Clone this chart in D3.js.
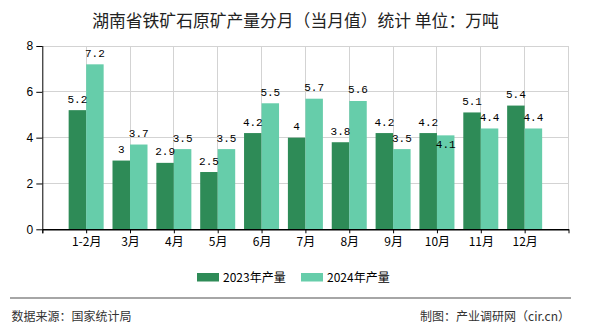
<!DOCTYPE html>
<html>
<head>
<meta charset="utf-8">
<script src="https://cdn.jsdelivr.net/npm/d3@7"></script>
<style>
  html, body { margin: 0; padding: 0; background: #fff; }
  svg { display: block; }
  text { font-family: "Noto Sans CJK SC", "Liberation Sans", sans-serif; }
</style>
</head>
<body>
<svg id="chart" width="590" height="330"></svg>
<script>
const categories = ["1-2月", "3月", "4月", "5月", "6月", "7月", "8月", "9月", "10月", "11月", "12月"];
const series2023 = [5.2, 3, 2.9, 2.5, 4.2, 4, 3.8, 4.2, 4.2, 5.1, 5.4];
const series2024 = [7.2, 3.7, 3.5, 3.5, 5.5, 5.7, 5.6, 3.5, 4.1, 4.4, 4.4];
const seriesNames = ["2023年产量", "2024年产量"];
const yTicks = [0, 2, 4, 6, 8];
const titleText = "湖南省铁矿石原矿产量分月（当月值）统计 单位：万吨";
const sourceText = "数据来源：国家统计局";
const creditText = "制图：产业调研网（cir.cn）";

const colors = ["#2E8B57", "#66CDAA"];
const svg = d3.select("#chart");
const pLeft = 42.3, pRight = 568.5, pTop = 46, pBottom = 229.3;

const x = d3.scaleLinear().domain([0, categories.length + 1]).range([pLeft, pRight]);
const y = d3.scaleLinear().domain([0, 8]).range([pBottom, pTop]);
const barW = 17.5;

// title
svg.append("text").attr("x", 295.5).attr("y", 26.5).attr("text-anchor", "middle")
  .attr("font-size", 16.8).attr("fill", "#222").style("white-space", "pre").text(titleText);

// horizontal grid
svg.append("g").selectAll("line").data(yTicks.filter(d => d > 0)).join("line")
  .attr("x1", pLeft).attr("x2", pRight).attr("y1", d => y(d)).attr("y2", d => y(d))
  .attr("stroke", "#d3d3d3").attr("stroke-width", 1).attr("shape-rendering", "crispEdges");
// vertical grid
svg.append("g").selectAll("line").data(d3.range(1, categories.length + 2)).join("line")
  .attr("x1", d => x(d)).attr("x2", d => x(d)).attr("y1", pTop).attr("y2", pBottom)
  .attr("stroke", "#d3d3d3").attr("stroke-width", 1).attr("shape-rendering", "crispEdges");

// bars
const data = categories.map((c, i) => ({ c, i, v: [series2023[i], series2024[i]] }));
const groups = svg.append("g").selectAll("g").data(data).join("g");
groups.selectAll("rect").data(d => d.v.map((v, k) => ({ v, k, i: d.i }))).join("rect")
  .attr("x", d => x(d.i + 1) - barW + d.k * barW)
  .attr("width", barW)
  .attr("y", d => y(d.v))
  .attr("height", d => y(0) - y(d.v))
  .attr("fill", d => colors[d.k]);

// value labels
groups.each(function(d) {
  const g = d3.select(this);
  const yd = y(d.v[0]), yl = y(d.v[1]);
  d.v.forEach((v, k) => {
    let ty = y(v) - 7.5;
    if (k === 1 && Math.abs(yd - yl) < 12) ty = y(v) + 12.5;
    g.append("text")
      .attr("x", x(d.i + 1) - barW / 2 + k * barW)
      .attr("y", ty)
      .attr("text-anchor", "middle")
      .style("font-family", "'Liberation Mono', monospace")
      .attr("font-size", 11)
      .attr("fill", "#000")
      .text(v);
  });
});

// y axis
const yAxis = svg.append("g").attr("transform", `translate(${pLeft},0)`)
  .call(d3.axisLeft(y).tickValues(yTicks).tickSize(6).tickPadding(3).tickSizeOuter(0));
yAxis.select(".domain").attr("stroke", "#000").attr("d", `M0.5,${pTop}V${pBottom + 4}`);
yAxis.selectAll(".tick line").attr("stroke", "#000");
yAxis.selectAll(".tick text").attr("font-size", 12).attr("fill", "#000")
  .style("font-family", "'Liberation Sans', sans-serif");

// x axis
const xAxis = svg.append("g").attr("transform", `translate(0,${pBottom})`)
  .call(d3.axisBottom(x).tickValues(d3.range(0, categories.length + 2))
    .tickFormat(d => (d >= 1 && d <= categories.length) ? categories[d - 1] : "")
    .tickSize(4).tickPadding(4).tickSizeOuter(0));
xAxis.select(".domain").attr("stroke", "#000").attr("stroke-width", 1.5);
xAxis.selectAll(".tick line").attr("stroke", "#000");
xAxis.selectAll(".tick text").attr("font-size", 12).attr("fill", "#000")
  .style("font-family", "'Noto Sans CJK SC', sans-serif");

// legend
const legendX = [197, 301];
seriesNames.forEach((name, k) => {
  svg.append("rect").attr("x", legendX[k]).attr("y", 273).attr("width", 22).attr("height", 8.5)
    .attr("fill", colors[k]);
  svg.append("text").attr("x", legendX[k] + 26).attr("y", 281.5).attr("font-size", 12)
    .attr("fill", "#000").text(name);
});

// footer
svg.append("line").attr("x1", 10).attr("x2", 571).attr("y1", 298).attr("y2", 298)
  .attr("stroke", "#888").attr("stroke-width", 1.3);
svg.append("text").attr("x", 11.5).attr("y", 320.5).attr("font-size", 12)
  .attr("fill", "#333").text(sourceText);
svg.append("text").attr("x", 570).attr("y", 320.5).attr("font-size", 12)
  .attr("text-anchor", "end").attr("fill", "#333").text(creditText);
</script>
</body>
</html>
